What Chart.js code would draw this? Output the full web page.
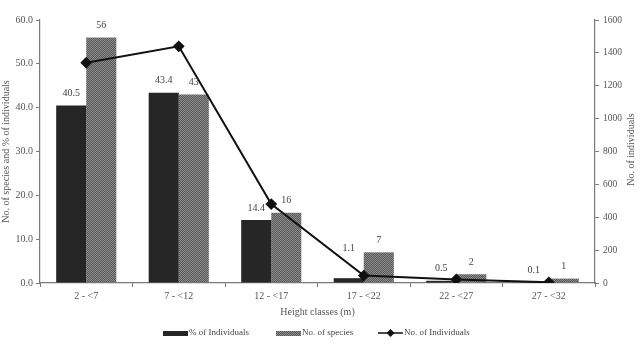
<!DOCTYPE html>
<html>
<head>
<meta charset="utf-8">
<script src="https://cdn.jsdelivr.net/npm/chart.js@4.4.1/dist/chart.umd.min.js"></script>
<style>
  html, body { margin: 0; padding: 0; background: #fff; }
  #wrap { width: 642px; height: 349px; position: relative; }
</style>
</head>
<body>
<div id="wrap"><canvas id="heightChart"></canvas></div>
<script>
const heightClasses = ['2 - <7', '7 - <12', '12 - <17', '17 - <22', '22 - <27', '27 - <32'];
const pctIndividuals = [40.5, 43.4, 14.4, 1.1, 0.5, 0.1];
const noSpecies = [56, 43, 16, 7, 2, 1];
const noIndividuals = [1340, 1440, 480, 45, 22, 4];

const serif = '"Liberation Serif", "DejaVu Serif", serif';
const axisColor = '#7a7a7a';
const textColor = '#555';

// dotted grey fill for the species bars
function makePattern() {
  const c = document.createElement('canvas');
  c.width = 2; c.height = 2;
  const g = c.getContext('2d');
  g.fillStyle = '#585858';
  g.fillRect(0, 0, 2, 2);
  g.fillStyle = '#8c8c8c';
  g.fillRect(0, 0, 1, 1);
  g.fillRect(1, 1, 1, 1);
  return g.createPattern(c, 'repeat');
}
const speciesFill = makePattern();

// numbers above the bars (the 1.1 label sits a bit higher, clear of the line)
const barLabels = {
  id: 'barLabels',
  afterDatasetsDraw(chart) {
    const ctx = chart.ctx;
    ctx.save();
    ctx.font = '10px ' + serif;
    ctx.fillStyle = '#444';
    ctx.textAlign = 'center';
    ctx.textBaseline = 'middle';
    [0, 1].forEach(i => {
      const meta = chart.getDatasetMeta(i);
      meta.data.forEach((bar, j) => {
        const v = chart.data.datasets[i].data[j];
        const txt = i === 0 ? v.toFixed(1) : String(v);
        let lift = 12;
        if (i === 0 && j === 3) lift = 30;
        ctx.fillText(txt, bar.x, bar.y - lift);
      });
    });
    ctx.restore();
  }
};

// right axis title reads bottom-to-top like the left one
const rightTitle = {
  id: 'rightTitle',
  afterDraw(chart) {
    const ctx = chart.ctx;
    const a = chart.chartArea;
    ctx.save();
    ctx.translate(631, (a.top + a.bottom) / 2 - 2);
    ctx.rotate(-Math.PI / 2);
    ctx.font = '10px ' + serif;
    ctx.fillStyle = textColor;
    ctx.textAlign = 'center';
    ctx.textBaseline = 'middle';
    ctx.fillText('No. of individuals', 0, 0);
    ctx.restore();
  }
};

// legend drawn by hand so the line entry can show its diamond
const bottomLegend = {
  id: 'bottomLegend',
  afterDraw(chart) {
    const ctx = chart.ctx;
    const y = 333;
    ctx.save();
    ctx.font = '9px ' + serif;
    ctx.textBaseline = 'middle';
    ctx.fillStyle = '#262626';
    ctx.fillRect(163, y - 2, 25, 5);
    ctx.fillStyle = '#444';
    ctx.fillText('% of Individuals', 189, y);
    ctx.fillStyle = speciesFill;
    ctx.fillRect(276, y - 2, 25, 5);
    ctx.fillStyle = '#444';
    ctx.fillText('No. of species', 302, y);
    ctx.strokeStyle = '#111';
    ctx.lineWidth = 1.5;
    ctx.beginPath();
    ctx.moveTo(378, y);
    ctx.lineTo(403, y);
    ctx.stroke();
    ctx.fillStyle = '#111';
    ctx.beginPath();
    ctx.moveTo(390.5, y - 4);
    ctx.lineTo(394.5, y);
    ctx.lineTo(390.5, y + 4);
    ctx.lineTo(386.5, y);
    ctx.closePath();
    ctx.fill();
    ctx.fillStyle = '#444';
    ctx.fillText('No. of Individuals', 404, y);
    ctx.restore();
  }
};

new Chart(document.getElementById('heightChart'), {
  type: 'bar',
  data: {
    labels: heightClasses,
    datasets: [
      {
        label: '% of Individuals',
        data: pctIndividuals,
        backgroundColor: '#262626',
        yAxisID: 'y',
        categoryPercentage: 0.65,
        barPercentage: 1.0,
        order: 1
      },
      {
        label: 'No. of species',
        data: noSpecies,
        backgroundColor: speciesFill,
        yAxisID: 'y',
        categoryPercentage: 0.65,
        barPercentage: 1.0,
        order: 1
      },
      {
        type: 'line',
        label: 'No. of Individuals',
        data: noIndividuals,
        yAxisID: 'y1',
        borderColor: '#111',
        borderWidth: 2,
        pointStyle: 'rectRot',
        pointRadius: 4.5,
        pointBackgroundColor: '#111',
        pointBorderColor: '#111',
        tension: 0,
        order: 0
      }
    ]
  },
  options: {
    responsive: true,
    maintainAspectRatio: false,
    animation: false,
    layout: { padding: { top: 20, bottom: 31, left: 0, right: 0 } },
    plugins: {
      legend: { display: false },
      tooltip: { enabled: false }
    },
    scales: {
      x: {
        grid: { display: true, drawOnChartArea: false, offset: true, color: axisColor, tickLength: 4 },
        border: { color: axisColor, width: 1.2 },
        ticks: { color: textColor, font: { family: serif, size: 10 }, padding: 3, maxRotation: 0 },
        title: { display: true, text: 'Height classes (m)', color: textColor, font: { family: serif, size: 10 }, padding: { top: 3, bottom: 0 } },
        afterFit(scale) { scale.height = 35; }
      },
      y: {
        position: 'left',
        min: 0, max: 60,
        grid: { display: true, drawOnChartArea: false, color: axisColor, tickLength: 4 },
        border: { color: axisColor, width: 1.2 },
        ticks: { stepSize: 10, color: textColor, font: { family: serif, size: 10 }, padding: 3, callback: v => v.toFixed(1) },
        title: { display: true, text: 'No. of species and % of individuals', color: textColor, font: { family: serif, size: 10 }, padding: 0 },
        afterFit(scale) { scale.width = 40; }
      },
      y1: {
        position: 'right',
        min: 0, max: 1600,
        grid: { display: true, drawOnChartArea: false, color: axisColor, tickLength: 4 },
        border: { color: axisColor, width: 1.2 },
        ticks: { stepSize: 200, color: textColor, font: { family: serif, size: 9.5 }, padding: 4, callback: v => String(v) },
        afterFit(scale) { scale.width = 47; }
      }
    }
  },
  plugins: [barLabels, rightTitle, bottomLegend]
});
</script>
</body>
</html>
